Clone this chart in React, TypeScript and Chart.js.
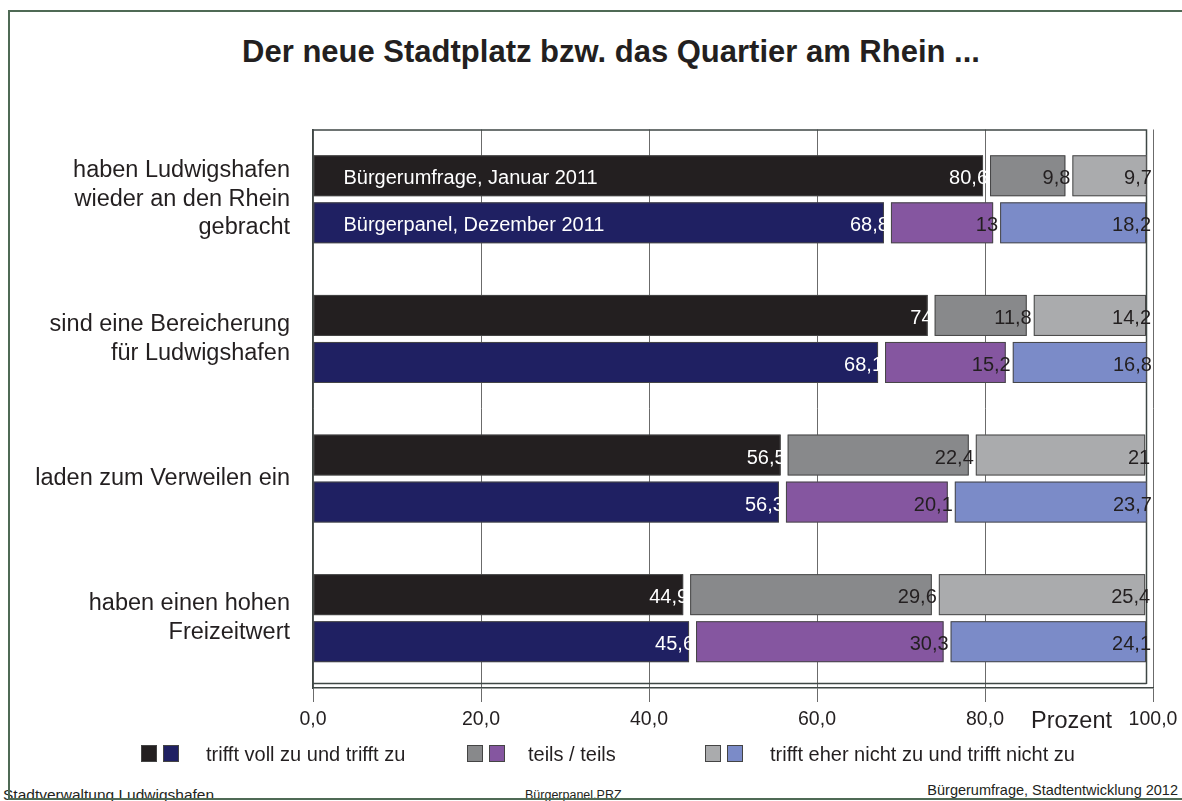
import React, { useEffect, useRef } from "react";
import { Chart, registerables } from "chart.js";

Chart.register(...registerables);

const categories = [
  ["haben Ludwigshafen", "wieder an den Rhein", "gebracht"],
  ["sind eine Bereicherung", "für Ludwigshafen"],
  ["laden zum Verweilen ein"],
  ["haben einen hohen", "Freizeitwert"],
];
const surveyNames = ["Bürgerumfrage, Januar 2011", "Bürgerpanel, Dezember 2011"];
const jan2011Agree = [80.6, 74, 56.5, 44.9];
const jan2011Partly = [9.8, 11.8, 22.4, 29.6];
const jan2011Disagree = [9.7, 14.2, 21, 25.4];
const dec2011Agree = [68.8, 68.1, 56.3, 45.6];
const dec2011Partly = [13, 15.2, 20.1, 30.3];
const dec2011Disagree = [18.2, 16.8, 23.7, 24.1];
const xTickValues = [0, 20, 40, 60, 80, 100];
const xTickLabels = ["0,0", "20,0", "40,0", "60,0", "80,0", "100,0"];
const legendLabels = [
  "trifft voll zu und trifft zu",
  "teils / teils",
  "trifft eher nicht zu und trifft nicht zu",
];

const C_BLACK = "#231f20";
const C_NAVY = "#1f2062";
const C_GRAY = "#88898b";
const C_PURPLE = "#8556a0";
const C_LGRAY = "#aaabad";
const C_BLUE = "#7b8bc8";
const FONT = '"Liberation Sans", Arial, Helvetica, sans-serif';
const GAP = 7;

const decoPlugin = {
  id: "decoPlugin",
  beforeDatasetsDraw(chart: any) {
    const { ctx, chartArea } = chart;
    const xs = chart.scales.x;
    const right = xs.getPixelForValue(100) - GAP;
    ctx.save();
    ctx.strokeStyle = "#3f4745";
    ctx.lineWidth = 1.5;
    ctx.beginPath();
    ctx.moveTo(chartArea.left, chartArea.top + 0.5);
    ctx.lineTo(right + 0.5, chartArea.top + 0.5);
    ctx.lineTo(right + 0.5, chartArea.bottom - 4);
    ctx.moveTo(chartArea.left, chartArea.bottom - 4.5);
    ctx.lineTo(right + 0.5, chartArea.bottom - 4.5);
    ctx.stroke();
    ctx.restore();
  },
  afterDatasetsDraw(chart: any) {
    const { ctx } = chart;
    ctx.save();
    chart.data.datasets.forEach((ds: any, i: number) => {
      const meta = chart.getDatasetMeta(i);
      meta.data.forEach((el: any, j: number) => {
        const { x, y, base, height } = el.getProps(["x", "y", "base", "height"], true);
        ctx.strokeStyle = "#464646";
        ctx.lineWidth = 1;
        ctx.strokeRect(base + 0.5, y - height / 2 + 0.5, x - GAP - base - 1, height - 1);
        const v = ds.data[j];
        ctx.font = "20px " + FONT;
        ctx.textAlign = "right";
        ctx.textBaseline = "middle";
        ctx.fillStyle = ds.labelColor;
        ctx.fillText(String(v).replace(".", ","), x - 2, y + 3);
        if (j === 0 && ds.seriesName) {
          ctx.textAlign = "left";
          ctx.fillStyle = "#ffffff";
          ctx.fillText(ds.seriesName, base + 30, y + 3);
        }
      });
    });
    ctx.restore();
  },
};

export default function App() {
  const ref = useRef<HTMLCanvasElement>(null);

  useEffect(() => {
    if (!ref.current) return;
    const mk = (data: number[], color: string, stack: string, labelColor: string, seriesName?: string) => ({
      data,
      backgroundColor: color,
      borderColor: "rgba(0,0,0,0)",
      borderWidth: { left: 0, top: 0, bottom: 0, right: GAP },
      borderSkipped: false,
      inflateAmount: 0,
      stack,
      labelColor,
      seriesName,
    });
    const chart = new Chart(ref.current, {
      type: "bar",
      data: {
        labels: categories as any,
        datasets: [
          mk(jan2011Agree, C_BLACK, "jan", "#ffffff", surveyNames[0]),
          mk(jan2011Partly, C_GRAY, "jan", C_BLACK),
          mk(jan2011Disagree, C_LGRAY, "jan", C_BLACK),
          mk(dec2011Agree, C_NAVY, "dec", "#ffffff", surveyNames[1]),
          mk(dec2011Partly, C_PURPLE, "dec", C_BLACK),
          mk(dec2011Disagree, C_BLUE, "dec", C_BLACK),
        ] as any,
      },
      options: {
        indexAxis: "y",
        responsive: false,
        animation: false,
        devicePixelRatio: 1,
        categoryPercentage: 0.674,
        barPercentage: 0.872,
        layout: { padding: { top: 29.5, right: 29, left: 0, bottom: 0 } },
        plugins: {
          legend: { display: false },
          tooltip: { enabled: false },
          title: { display: false },
        },
        scales: {
          x: {
            stacked: true,
            min: 0,
            max: 100,
            afterFit: (s: any) => {
              s.height = 62;
              s.paddingLeft = 0;
              s.paddingRight = 0;
            },
            afterBuildTicks: (s: any) => {
              s.ticks = xTickValues.map((v) => ({ value: v }));
            },
            grid: { color: "#6b6b6b", lineWidth: 1, tickLength: 14, drawTicks: true },
            border: { display: true, color: "#3f4745", width: 1.5 },
            ticks: {
              padding: 6,
              color: C_BLACK,
              font: { family: FONT, size: 19.5 },
              maxRotation: 0,
              callback: (v: any) => xTickLabels[xTickValues.indexOf(Number(v))] ?? "",
            },
          },
          y: {
            stacked: true,
            afterFit: (s: any) => {
              s.width = 313;
              s.paddingTop = 0;
              s.paddingBottom = 0;
            },
            grid: { display: false, drawTicks: false },
            border: { display: true, color: "#3f4745", width: 1.5 },
            ticks: {
              padding: 23,
              color: C_BLACK,
              font: { family: FONT, size: 23.5, lineHeight: "28.5px" },
            },
          },
        },
      } as any,
      plugins: [decoPlugin],
    });
    return () => chart.destroy();
  }, []);

  const sq = (bg: string): React.CSSProperties => ({
    position: "absolute",
    width: 14,
    height: 15,
    background: bg,
    border: "1px solid #444",
  });
  const legendText = (left: number): React.CSSProperties => ({
    position: "absolute",
    left,
    top: 742,
    fontSize: 20,
    lineHeight: "24px",
    color: C_BLACK,
    whiteSpace: "nowrap",
  });

  return (
    <div
      style={{
        position: "absolute",
        left: 0,
        top: 0,
        width: 1182,
        height: 801,
        overflow: "hidden",
        background: "#fff",
        fontFamily: FONT,
        color: C_BLACK,
      }}
    >
      <div
        style={{
          position: "absolute",
          left: 111,
          top: 33,
          width: 1000,
          textAlign: "center",
          fontSize: 31,
          fontWeight: "bold",
          lineHeight: "38px",
          whiteSpace: "nowrap",
        }}
      >
        Der neue Stadtplatz bzw. das Quartier am Rhein ...
      </div>
      <canvas
        ref={ref}
        width={1182}
        height={650}
        style={{ position: "absolute", left: 0, top: 100, width: 1182, height: 650 }}
      />
      <div
        style={{
          position: "absolute",
          left: 1031,
          top: 707,
          fontSize: 23.5,
          lineHeight: "27px",
          whiteSpace: "nowrap",
        }}
      >
        Prozent
      </div>

      <div style={{ ...sq(C_BLACK), left: 141, top: 745 }} />
      <div style={{ ...sq(C_NAVY), left: 163, top: 745 }} />
      <div style={legendText(206)}>{legendLabels[0]}</div>
      <div style={{ ...sq(C_GRAY), left: 467, top: 745 }} />
      <div style={{ ...sq(C_PURPLE), left: 489, top: 745 }} />
      <div style={legendText(528)}>{legendLabels[1]}</div>
      <div style={{ ...sq(C_LGRAY), left: 705, top: 745 }} />
      <div style={{ ...sq(C_BLUE), left: 727, top: 745 }} />
      <div style={legendText(770)}>{legendLabels[2]}</div>

      <div
        style={{ position: "absolute", left: 3, top: 786, fontSize: 15.5, lineHeight: "18px", whiteSpace: "nowrap" }}
      >
        Stadtverwaltung Ludwigshafen
      </div>
      <div
        style={{ position: "absolute", left: 525, top: 787, fontSize: 12.5, lineHeight: "16px", whiteSpace: "nowrap" }}
      >
        Bürgerpanel.PRZ
      </div>
      <div
        style={{
          position: "absolute",
          right: 4,
          top: 782,
          fontSize: 14.5,
          lineHeight: "17px",
          whiteSpace: "nowrap",
        }}
      >
        Bürgerumfrage, Stadtentwicklung 2012
      </div>

      <div
        style={{
          position: "absolute",
          left: 8,
          top: 10,
          width: 1200,
          height: 786,
          border: "2px solid #4f6a55",
          pointerEvents: "none",
        }}
      />
    </div>
  );
}
